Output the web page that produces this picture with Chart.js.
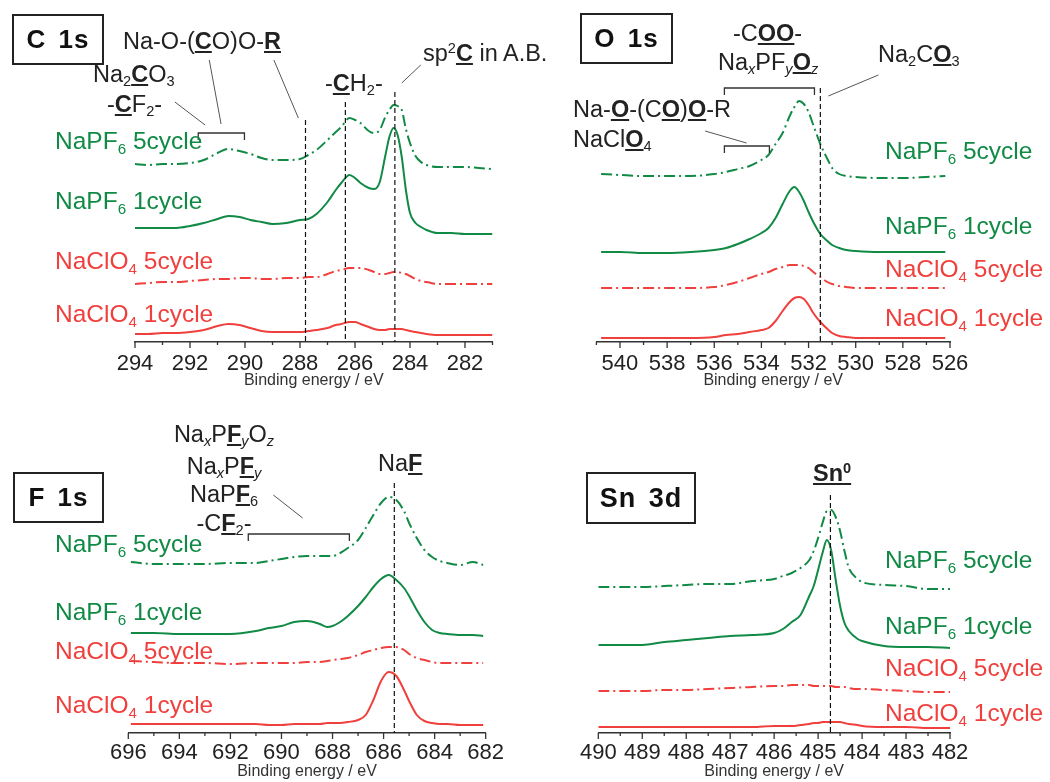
<!DOCTYPE html>
<html>
<head>
<meta charset="utf-8">
<script src="https://cdn.jsdelivr.net/npm/chart.js@4.4.1/dist/chart.umd.min.js"></script>
<style>
  html, body { margin:0; padding:0; background:#fff; }
  body { position:relative; width:1050px; height:782px; overflow:hidden;
         font-family:'Liberation Sans', Arial, Helvetica, sans-serif; }
  canvas { position:absolute; }
  .lbl { position:absolute; white-space:nowrap; line-height:1; }
  .lbl sub { font-size:0.62em; vertical-align:-0.3em; line-height:0; }
  .lbl sup { font-size:0.62em; vertical-align:0.55em; line-height:0; }
  .lbl u { text-decoration-thickness:1.5px; text-underline-offset:2px; }
  .box { position:absolute; border:2px solid #222; box-sizing:border-box; font-weight:bold;
         display:flex; align-items:center; justify-content:center; color:#111;
         letter-spacing:1px; word-spacing:4px; }
</style>
</head>
<body>
<canvas id="c1s" width="525" height="391" style="left:0;top:0"></canvas>
<canvas id="o1s" width="525" height="391" style="left:525px;top:0"></canvas>
<canvas id="f1s" width="525" height="391" style="left:0;top:391px"></canvas>
<canvas id="sn3d" width="525" height="391" style="left:525px;top:391px"></canvas>
<script>
// XPS spectra, intensity in a.u. (already offset per trace), energies in eV
const seriesNames = ['NaPF<sub>6</sub> 5cycle', 'NaPF<sub>6</sub> 1cycle', 'NaClO<sub>4</sub> 5cycle', 'NaClO<sub>4</sub> 1cycle'];

// C 1s
const cE   = [294,293.5,293,292.5,292,291.5,291,290.6,290.2,289.8,289.4,289,288.5,288,287.7,287.4,287,286.7,286.5,286.2,286,285.8,285.5,285.3,285.1,284.9,284.75,284.6,284.45,284.3,284.15,284,283.8,283.6,283.4,283,282.5,282,281.5,281];
const cPF5 = [178,177,178,178,179,182,189,193,191,188,184,182,182,183,187,192,202,210,215,224,222,219,211,209,212,225,232,237,236,232,213,199,186,180,177,175,175,175,174,173];
const cPF1 = [114,114,114,114,116,119,123,126,125,122,120,118,119,122,123,128,140,152,159,167,164,159,154,153,160,186,205,214,207,185,152,129,119,115,112,109,109,108,108,108];
const cCl5 = [58,59,60,60,61,62,63,63,64,64,63,63,64,64,65,65,68,71,72,74,74,74,72,70,68,68,69,70,70,69,68,66,63,61,60,58,58,58,58,58];
const cCl1 = [8,8,9,9,10,12,16,18,17,14,11,10,10,10,11,12,14,17,18,20,20,18,15,13,12,12,13,13,13,13,12,11,10,9,8,7,7,7,7,7];

// O 1s
const oE   = [540.8,540,539,538,537,536,535.5,535,534.5,534,533.7,533.4,533.1,532.8,532.6,532.4,532.2,532,531.8,531.5,531.2,531,530.7,530.4,530,529,528,527,526.2];
const oPF5 = [168,167,166,166,166,168,170,173,176,182,187,198,209,226,235,241,238,230,217,198,183,174,168,166,165,164,164,165,166];
const oPF1 = [90,90,89,89,90,92,94,98,103,109,114,124,138,151,155,150,141,130,120,108,101,97,94,92,91,90,90,90,90];
const oCl5 = [54,54,54,54,54,55,57,60,64,68,70,73,75,77,77,77,76,74,70,65,60,58,56,55,54,54,54,54,54];
const oCl1 = [4,4,4,4,4,5,7,8,10,12,14,21,31,40,44,45,43,37,29,20,13,9,6,5,4,4,4,4,4];

// F 1s
const fE   = [695.9,695,694,693,692,691,690.5,690,689.5,689,688.5,688.2,688,687.7,687.4,687,686.7,686.4,686.1,685.8,685.5,685.2,685,684.7,684.4,684.1,683.8,683.5,683,682.5,682.1];
const fPF5 = [171,169,169,169,170,170,172,174,176,177,177,177,177,180,185,193,205,218,230,236,233,222,210,195,183,176,172,170,168,171,168];
const fPF1 = [100,100,99,99,99,102,105,107,111,112,109,106,107,111,117,127,136,146,154,158,153,145,137,123,111,103,100,99,98,98,97];
const fCl5 = [72,71,70,70,69,70,70,70,70,71,71,72,73,74,75,78,81,83,85,86,86,83,79,75,73,71,70,70,70,70,70];
const fCl1 = [9,9,9,9,9,9,8,8,9,9,9,10,10,10,11,13,18,33,52,61,57,43,32,18,12,10,9,9,8,8,8];

// Sn 3d
const sE   = [490,489.5,489,488.5,488,487.5,487,486.5,486,485.8,485.6,485.4,485.2,485.1,485,484.9,484.8,484.7,484.6,484.5,484.4,484.3,484.1,484,483.5,483,482.5,482];
const sPF5 = [146,146,146,147,148,149,149,152,154,157,160,165,173,182,195,210,222,223,216,202,182,165,154,151,148,147,144,144];
const sPF1 = [88,88,88,91,93,95,97,98,100,104,111,118,137,147,163,180,193,182,153,127,110,102,94,92,87,86,86,85];
const sCl5 = [42,42,42,43,43,44,45,46,47,47,48,48,48,47,47,47,47,47,46,46,46,45,44,44,43,42,41,41];
const sCl1 = [6,6,6,6,6,6,6,6,7,7,7,8,9,10,10,11,11,11,11,11,10,9,8,7,6,6,5,5];

const FONT = "'Liberation Sans', Arial, Helvetica, sans-serif";
const GREEN = '#118a46', RED = '#f0403d', INK = '#222';
const DASHDOT = [11,4,2,4];

// ticks under the axis, dashed reference lines, brackets, leader lines
const decor = {
  id:'decor',
  afterDatasetsDraw(chart, args, o){
    const { ctx, chartArea:a, scales:{ x, y } } = chart;
    ctx.save();
    ctx.strokeStyle = '#333'; ctx.lineWidth = 1.3;
    for (let v = x.min; v <= x.max + 1e-6; v += o.minor){
      const major = Math.abs(v / o.major - Math.round(v / o.major)) < 1e-6;
      const px = x.getPixelForValue(v);
      ctx.beginPath(); ctx.moveTo(px, a.bottom); ctx.lineTo(px, a.bottom + (major ? 6 : 3)); ctx.stroke();
    }
    ctx.setLineDash([5,3]); ctx.strokeStyle = '#111'; ctx.lineWidth = 1.2;
    o.refs.forEach(([e, top]) => {
      const px = x.getPixelForValue(e);
      ctx.beginPath(); ctx.moveTo(px, y.getPixelForValue(top)); ctx.lineTo(px, a.bottom); ctx.stroke();
    });
    ctx.setLineDash([]); ctx.strokeStyle = '#333'; ctx.lineWidth = 1.3;
    o.brackets.forEach(([e1, e2, h, drop]) => {
      ctx.beginPath();
      ctx.moveTo(x.getPixelForValue(e1), y.getPixelForValue(h - drop));
      ctx.lineTo(x.getPixelForValue(e1), y.getPixelForValue(h));
      ctx.lineTo(x.getPixelForValue(e2), y.getPixelForValue(h));
      ctx.lineTo(x.getPixelForValue(e2), y.getPixelForValue(h - drop));
      ctx.stroke();
    });
    ctx.strokeStyle = '#555'; ctx.lineWidth = 1;
    o.leaders.forEach(([e1, h1, e2, h2]) => {
      ctx.beginPath();
      ctx.moveTo(x.getPixelForValue(e1), y.getPixelForValue(h1));
      ctx.lineTo(x.getPixelForValue(e2), y.getPixelForValue(h2));
      ctx.stroke();
    });
    ctx.restore();
  }
};

const panels = [
  { id:'c1s', E:cE, data:[cPF5,cPF1,cCl5,cCl1], min:281, max:294, major:2, minor:1, left:135, right:32.5, tpad:9,
    refs:[[287.8,222],[286.35,240],[284.55,250]],
    brackets:[[291.7,290.02,209,7]],
    leaders:[[292.55,240,291.45,217],[291.3,282,290.87,218],[288.95,282,288.06,224],[283.61,277,284.3,259]] },
  { id:'o1s', E:oE, data:[oPF5,oPF1,oCl5,oCl1], min:526, max:541, major:2, minor:1, left:71.4, right:100, tpad:9,
    refs:[[531.5,254]],
    brackets:[[535.57,531.75,254,7],[535.57,533.66,196,7]],
    leaders:[[529.04,267,531.16,246],[536.39,211,534.63,199]] },
  { id:'f1s', E:fE, data:[fPF5,fPF1,fCl5,fCl1], min:682, max:696, major:2, minor:1, left:128.3, right:39.3, tpad:7,
    refs:[[685.58,250]],
    brackets:[[691.3,687.34,199,7]],
    leaders:[[690.32,238,689.17,215]] },
  { id:'sn3d', E:sE, data:[sPF5,sPF1,sCl5,sCl1], min:482, max:490, major:1, minor:0.5, left:73.3, right:100, tpad:7,
    refs:[[484.72,238]], brackets:[], leaders:[] }
];

const styles = [
  { borderColor:GREEN, borderDash:DASHDOT },
  { borderColor:GREEN, borderDash:[] },
  { borderColor:RED, borderDash:DASHDOT },
  { borderColor:RED, borderDash:[] }
];

panels.forEach(p => {
  const datasets = p.data.map((vals, i) => ({
    label: seriesNames[i].replace(/<[^>]+>/g, ''),
    data: p.E.map((e, k) => ({ x:e, y:vals[k] })),
    borderWidth: 2, pointRadius: 0, fill:false, ...styles[i]
  }));
  new Chart(document.getElementById(p.id), {
    type:'line',
    data:{ datasets },
    options:{
      responsive:false, animation:false,
      layout:{ padding:{ left:p.left, right:p.right, top:42, bottom:0 } },
      elements:{ line:{ tension:0.4, cubicInterpolationMode:'monotone' } },
      plugins:{ legend:{ display:false }, tooltip:{ enabled:false },
        decor:{ major:p.major, minor:p.minor, refs:p.refs, brackets:p.brackets, leaders:p.leaders } },
      scales:{
        x:{ type:'linear', min:p.min, max:p.max, reverse:true,
            grid:{ display:false, drawTicks:false },
            border:{ display:true, color:'#333', width:1.5 },
            ticks:{ stepSize:p.minor, autoSkip:false, maxRotation:0, padding:p.tpad, color:INK,
                    font:{ family:FONT, size:22 },
                    callback:v => Math.abs(v / p.major - Math.round(v / p.major)) < 1e-6 ? String(v) : '' },
            title:{ display:true, text:'Binding energy / eV', color:'#333',
                    font:{ family:FONT, size:16 }, padding:{ top:0, bottom:1 } },
            afterFit:s => { s.height = 49; } },
        y:{ display:false, min:0, max:300 }
      }
    },
    plugins:[decor]
  });
});

// text labels (html so sub/superscripts and underlines stay real text)
function label(html, x, base, size, color, center){
  const d = document.createElement('div');
  d.className = 'lbl';
  d.innerHTML = html;
  d.style.left = x + 'px';
  d.style.top = (base - 0.8465 * size) + 'px';
  d.style.fontSize = size + 'px';
  d.style.color = color;
  if (center) d.style.transform = 'translateX(-50%)';
  document.body.appendChild(d);
}
function box(text, x, y, w, h, size){
  const d = document.createElement('div');
  d.className = 'box';
  d.textContent = text;
  Object.assign(d.style, { left:x+'px', top:y+'px', width:w+'px', height:h+'px', fontSize:size+'px' });
  document.body.appendChild(d);
}

const seriesColors = [GREEN, GREEN, RED, RED];
const LS = 24.5;
[[55,[150,210,270,323]], [885,[160,235,278,327]], [55,[553,621,660,714]], [885,[569,635,677,722]]]
  .forEach(([x, bases]) => bases.forEach((b, i) => label(seriesNames[i], x, b, LS, seriesColors[i])));

box('C 1s', 12, 14, 92, 51, 26);
box('O 1s', 580, 13, 93, 51, 26);
box('F 1s', 13, 472, 91, 51, 26);
box('Sn 3d', 586, 472, 110, 52, 27);

const A = 23.5;
// C 1s
label('Na-O-(<u><b>C</b></u>O)O-<u><b>R</b></u>', 123, 50, A, INK);
label('Na<sub>2</sub><u><b>C</b></u>O<sub>3</sub>', 93, 83, A, INK);
label('-<u><b>C</b></u>F<sub>2</sub>-', 107, 113, A, INK);
label('-<u><b>C</b></u>H<sub>2</sub>-', 325, 92, A, INK);
label('sp<sup>2</sup><u><b>C</b></u> in A.B.', 423, 62, A, INK);
// O 1s
label('-C<u><b>OO</b></u>-', 733, 42, A, INK);
label('Na<sub><i>x</i></sub>PF<sub><i>y</i></sub><u><b>O</b></u><sub><i>z</i></sub>', 718, 71, A, INK);
label('Na<sub>2</sub>C<u><b>O</b></u><sub>3</sub>', 878, 63, A, INK);
label('Na-<u><b>O</b></u>-(C<u><b>O</b></u>)<u><b>O</b></u>-R', 573, 118, A, INK);
label('NaCl<u><b>O</b></u><sub>4</sub>', 573, 148, A, INK);
// F 1s
label('Na<sub><i>x</i></sub>P<u><b>F</b></u><sub><i>y</i></sub>O<sub><i>z</i></sub>', 224, 443, A, INK, true);
label('Na<sub><i>x</i></sub>P<u><b>F</b></u><sub><i>y</i></sub>', 224, 475, A, INK, true);
label('NaP<u><b>F</b></u><sub>6</sub>', 224, 503, A, INK, true);
label('-C<u><b>F</b></u><sub>2</sub>-', 224, 532, A, INK, true);
label('Na<u><b>F</b></u>', 378, 472, A, INK);
// Sn 3d
label('<u><b>Sn<sup>0</sup></b></u>', 813, 482, A, INK);
</script>
</body>
</html>
